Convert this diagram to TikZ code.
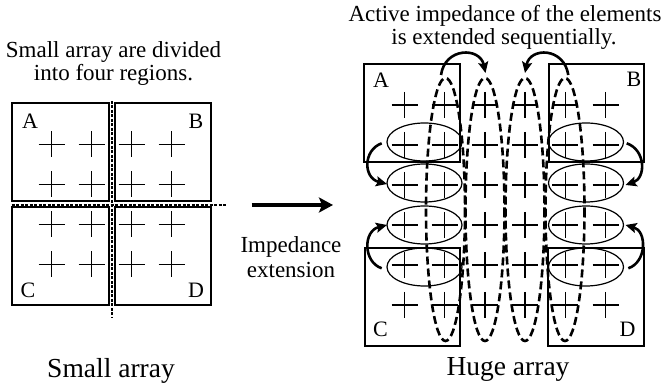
\documentclass[tikz,border=0pt]{standalone}
\usepackage{fontspec}
\setmainfont{Liberation Serif}
\usetikzlibrary{arrows.meta}
\tikzset{
  txt/.style={anchor=base, inner sep=0pt, font=\fontsize{23}{24}\selectfont},
  bigtxt/.style={anchor=base, inner sep=0pt, font=\fontsize{27.5}{28}\selectfont},
  lbl/.style={anchor=base, inner sep=0pt, font=\fontsize{22}{22}\selectfont},
  regionbox/.style={draw=black, line width=2pt},
  crossline/.style={draw=black, line width=1.4pt},
  grpell/.style={draw=black, line width=1.2pt},
  loopdash/.style={draw=black, line width=2.6pt, dash pattern=on 8pt off 4pt},
  divline/.style={draw=black, line width=1.8pt, dash pattern=on 3pt off 1.5pt},
  curvearrow/.style={draw=black, line width=2.6pt, -{Stealth[length=11pt,width=10pt,inset=2pt]}},
  bigarrow/.style={draw=black, line width=3.4pt, -{Stealth[length=14pt,width=15pt,inset=3pt]}}
}
\begin{document}
\begin{tikzpicture}[x=1pt,y=-1pt]
\path[use as bounding box] (0,0) rectangle (667,387);

% ---------- texts ----------
\node[txt] (tl1) at (113.5,57.3) {Small array are divided};
\node[txt] (tl2) at (113.5,81) {into four regions.};
\node[txt] (tr1) at (505,21.7) {Active impedance of the elements};
\node[txt] (tr2) at (504,45) {is extended sequentially.};
\node[txt] (im1) at (291,253) {Impedance};
\node[txt] (im2) at (291,278) {extension};
\node[bigtxt] (bs) at (111,377.5) {Small array};
\node[bigtxt] (bh) at (508,376) {Huge array};

% ---------- small array ----------
\foreach \x in {51.7,91.7,131.7,171.7}
  \foreach \y in {144.3,184.3,224.3,264.3}
    \draw[crossline] (\x-13,\y) -- (\x+13,\y) (\x,\y-13) -- (\x,\y+13);
\draw[regionbox] (12.3,102.7) rectangle (109,200.7);
\draw[regionbox] (115,102.7) rectangle (211,200.7);
\draw[regionbox] (12.3,207.3) rectangle (109,305.3);
\draw[regionbox] (115,207.3) rectangle (211,305.3);
\coordinate (hd1) at (11.7,205.3);
\coordinate (hd2) at (226,205.3);
\coordinate (vd1) at (112,101);
\coordinate (vd2) at (112,318);
\draw[divline] (hd1) -- (hd2);
\draw[divline] (vd1) -- (vd2);
\node[lbl] (sA) at (30,128.3) {A};
\node[lbl] (sB) at (196,128.3) {B};
\node[lbl] (sC) at (28,298) {C};
\node[lbl] (sD) at (196,298) {D};

% ---------- big arrow ----------
\coordinate (ba1) at (251.7,205);
\coordinate (ba2) at (333,205);
\draw[bigarrow] (ba1) -- (ba2);

% ---------- huge array ----------
\foreach \x in {404.5,444.7,484.9,525.1,565.3,605.5}
  \foreach \y in {105,145,185,225,265,305}
    \draw[crossline] (\x-13,\y) -- (\x+13,\y) (\x,\y-13) -- (\x,\y+13);
\draw[regionbox] (364,64) rectangle (460,162);
\draw[regionbox] (549,64) rectangle (644,162);
\draw[regionbox] (365,248) rectangle (460,346);
\draw[regionbox] (548,248) rectangle (644,346);
\node[lbl] (hA) at (381,88) {A};
\node[lbl] (hB) at (634,87) {B};
\node[lbl] (hC) at (380.5,337) {C};
\node[lbl] (hD) at (627.5,337) {D};

\foreach \y in {142,183,225,267} {
  \draw[grpell] (424.5,\y) ellipse [x radius=37.5, y radius=19];
  \draw[grpell] (586,\y) ellipse [x radius=37.5, y radius=19];
}
\foreach \x in {445.5,485,525,565}
  \draw[loopdash] (\x,209.5) ellipse [x radius=19.5, y radius=131.5];

% ---------- curved arrows ----------
\coordinate (t1s) at (441,75);
\coordinate (t1e) at (485.5,73);
\draw[curvearrow] (t1s) .. controls (445,47) and (480,47) .. (t1e);
\coordinate (t2s) at (568.3,75);
\coordinate (t2e) at (525,73);
\draw[curvearrow] (t2s) .. controls (564,47) and (530,47) .. (t2e);

\coordinate (l1s) at (381.7,143.3);
\coordinate (l1e) at (387,184);
\draw[curvearrow] (l1s) .. controls (363,150) and (363,178) .. (l1e);
\coordinate (l2s) at (381.7,268.3);
\coordinate (l2e) at (387,225);
\draw[curvearrow] (l2s) .. controls (363,262) and (363,231) .. (l2e);

\coordinate (r1s) at (626.7,143.3);
\coordinate (r1e) at (625.5,185);
\draw[curvearrow] (r1s) .. controls (646,150) and (646,178) .. (r1e);
\coordinate (r2s) at (628.3,268.3);
\coordinate (r2e) at (625.5,225);
\draw[curvearrow] (r2s) .. controls (647,262) and (647,231) .. (r2e);
\end{tikzpicture}
\end{document}
